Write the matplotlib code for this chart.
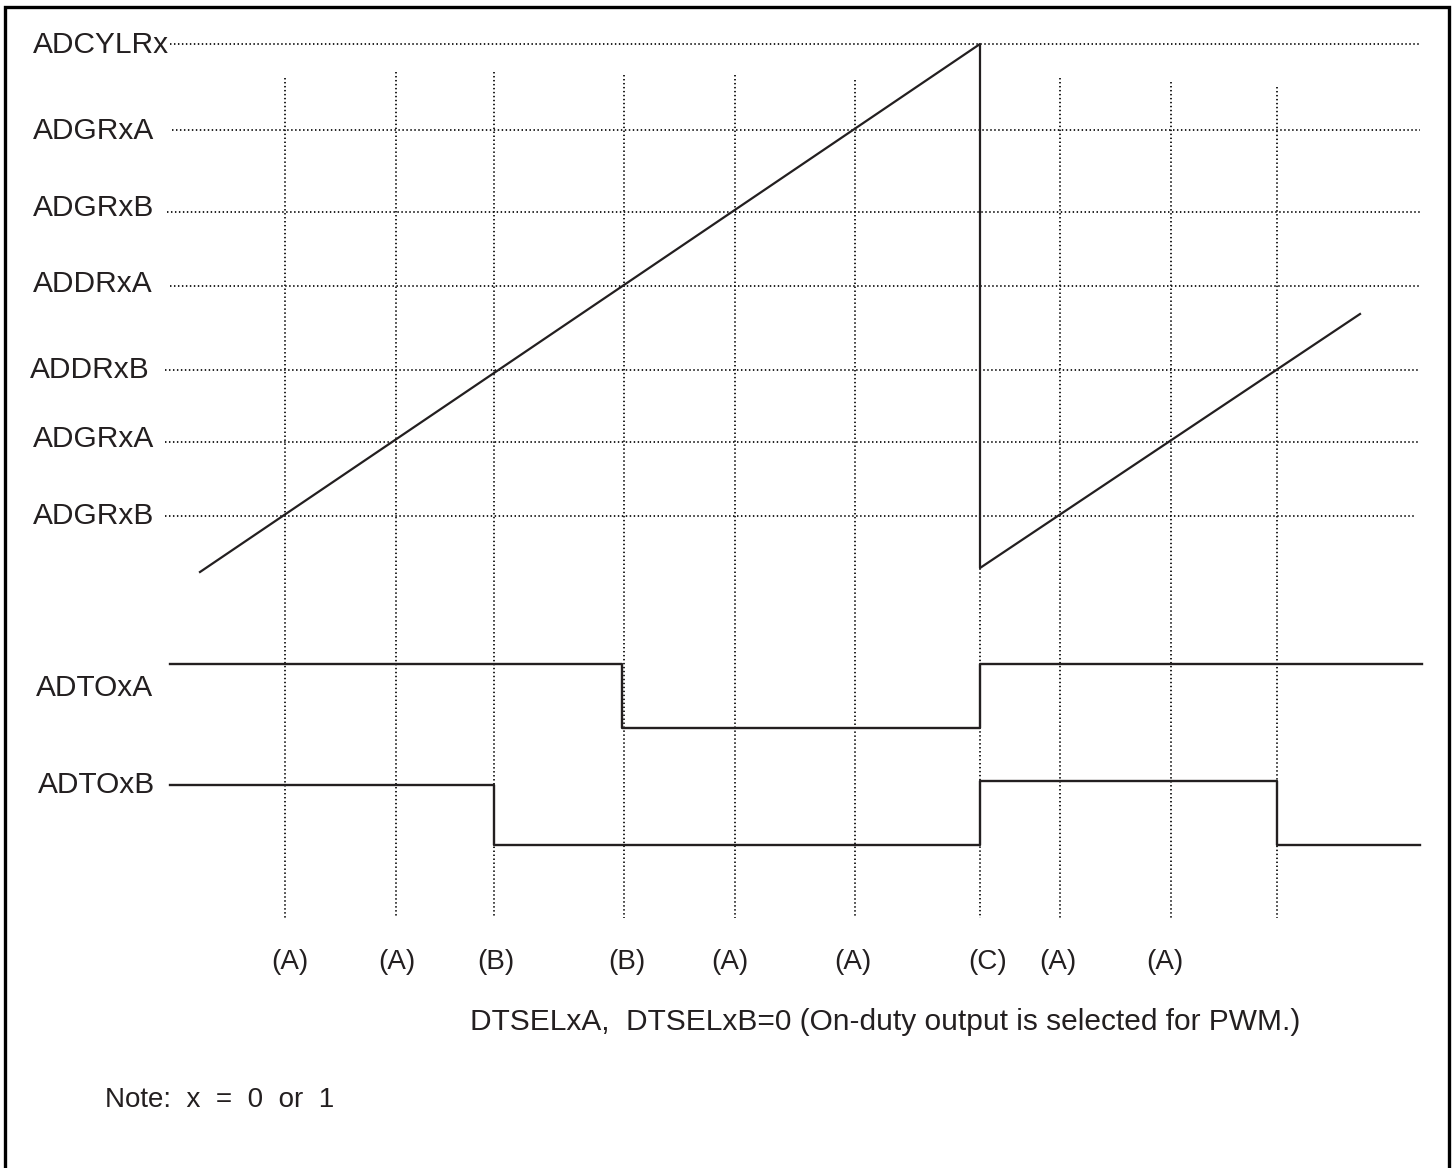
import matplotlib.pyplot as plt

# Register levels (compare values) drawn as dotted guide lines
level_names = ['ADCYLRx', 'ADGRxA', 'ADGRxB', 'ADDRxA', 'ADDRxB', 'ADGRxA', 'ADGRxB']
level_y = [44, 130, 212, 286, 370, 442, 516]
level_x0 = [170, 172, 167, 170, 165, 165, 165]
level_x1 = [1420, 1420, 1420, 1420, 1420, 1420, 1415]
label_x = [33, 33, 33, 33, 30, 33, 33]
label_y = [45, 131, 208, 284, 370, 439, 516]

# Event instants (vertical dotted lines) and their labels
event_x = [285, 396, 494, 624, 735, 855, 980, 1060, 1171, 1277]
event_top = [78, 72, 72, 75, 75, 80, 44, 78, 82, 87]
event_bottom = 918
event_labels = ['(A)', '(A)', '(B)', '(B)', '(A)', '(A)', '(C)', '(A)', '(A)']
event_label_x = [290, 397, 496, 627, 730, 853, 988, 1058, 1165]

# Counter ramp (sawtooth)
ramp_x = [200, 980, 980, 1360]
ramp_y = [572, 44, 568, 314]

# Output waveforms
adtoa_x = [170, 622, 622, 978, 980, 980, 1422]
adtoa_y = [664, 664, 728, 728, 728, 664, 664]
adtob_x = [170, 494, 494, 978, 980, 980, 1277, 1277, 1420]
adtob_y = [785, 785, 845, 845, 845, 781, 781, 845, 845]

plt.rcParams['font.family'] = ['Liberation Sans', 'DejaVu Sans']

fig = plt.figure(figsize=(14.55, 11.68), dpi=100)
ax = fig.add_axes([0, 0, 1, 1])
ax.set_xlim(0, 1455)
ax.set_ylim(1168, 0)
ax.axis('off')

ink = '#231f20'
dot = (0, (0.8, 1.4))

# outer frame
ax.plot([5, 5, 1449, 1449], [1168, 7, 7, 1168], color='black', lw=2.4,
        solid_joinstyle='miter')

for name, y, lx, ly, x0, x1 in zip(level_names, level_y, label_x, label_y,
                                   level_x0, level_x1):
    ax.plot([x0, x1], [y, y], color='#111111', lw=1.3, linestyle=dot)
    ax.text(lx, ly, name, fontsize=21.5, color=ink, va='center', ha='left')

for x, top in zip(event_x, event_top):
    ax.plot([x, x], [top, event_bottom], color='#111111', lw=1.3, linestyle=dot)

ax.plot(ramp_x, ramp_y, color=ink, lw=1.6)
ax.plot(adtoa_x, adtoa_y, color=ink, lw=1.7)
ax.plot(adtob_x, adtob_y, color=ink, lw=1.7)

ax.text(36, 688, 'ADTOxA', fontsize=21.5, color=ink, va='center', ha='left')
ax.text(38, 785, 'ADTOxB', fontsize=21.5, color=ink, va='center', ha='left')

for lab, x in zip(event_labels, event_label_x):
    ax.text(x, 962, lab, fontsize=20, color=ink, va='center', ha='center')

ax.text(470, 1022, 'DTSELxA,  DTSELxB=0 (On-duty output is selected for PWM.)',
        fontsize=21.5, color=ink, va='center', ha='left')
ax.text(105, 1100, 'Note:  x  =  0  or  1', fontsize=20, color=ink,
        va='center', ha='left')

fig.savefig('out.png', dpi=100)
